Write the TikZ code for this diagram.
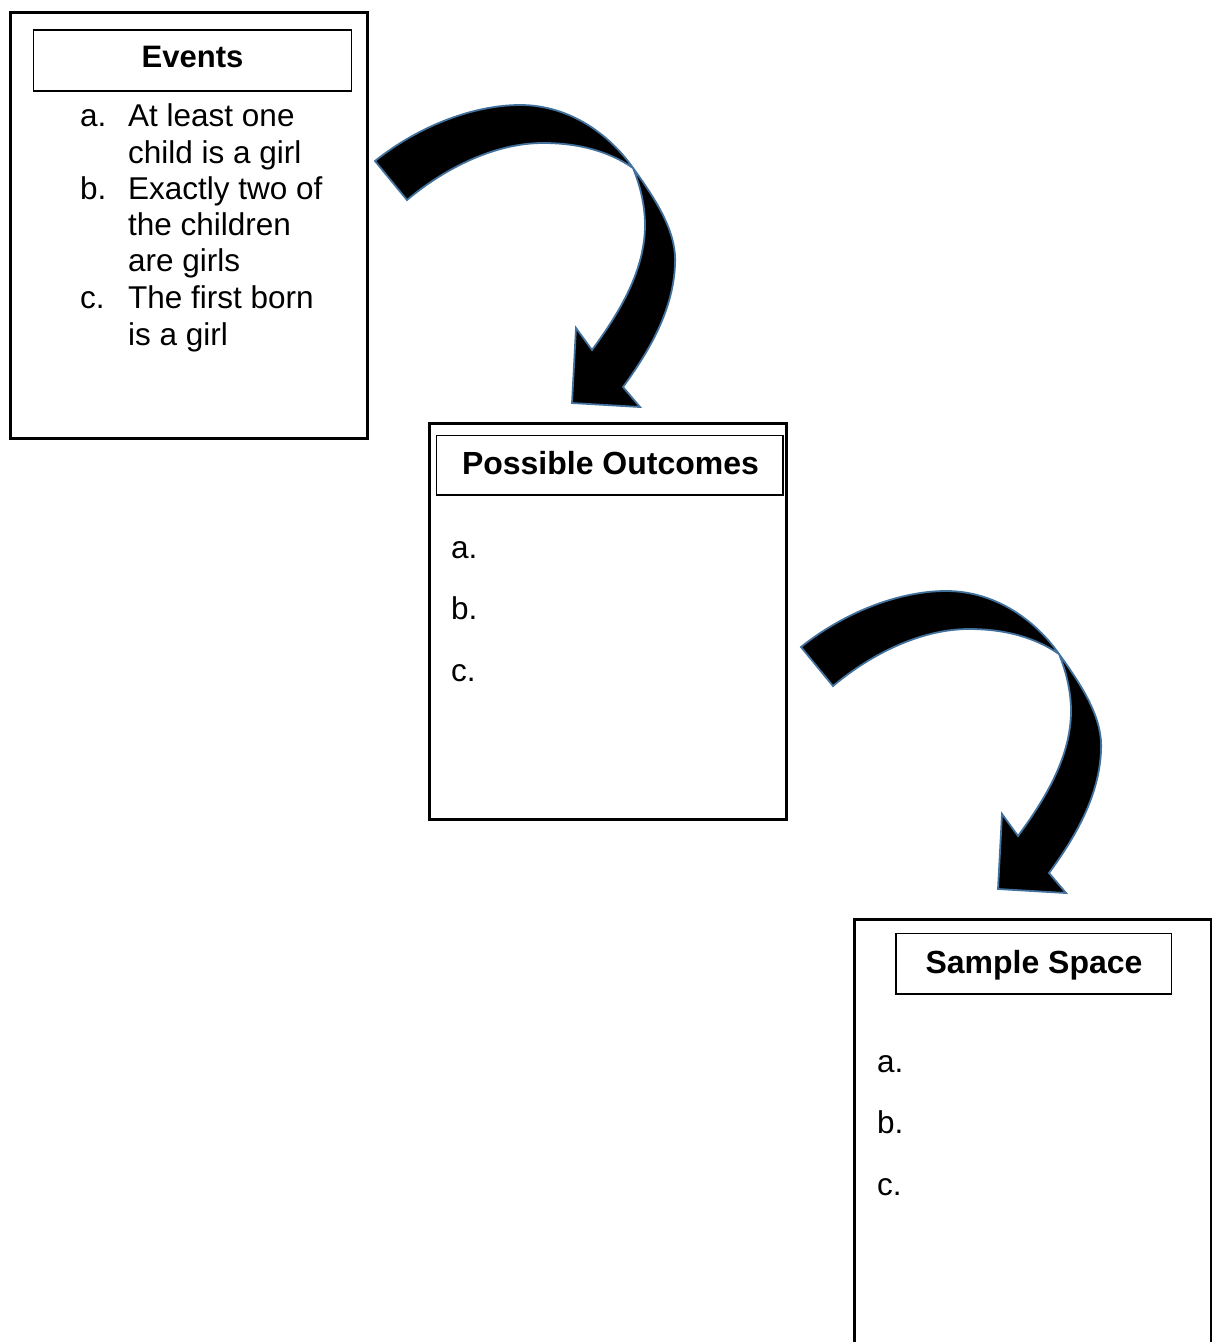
\documentclass[tikz,border=0pt]{standalone}
\usepackage{fontspec}
\setmainfont{Liberation Sans}
\definecolor{arrowline}{HTML}{41719C}
\begin{document}
\begin{tikzpicture}[x=1pt,y=-1pt,
  outerbox/.style={draw=black, line width=3pt, inner sep=0pt, outer sep=0pt},
  titlebox/.style={draw=black, line width=1.3pt, inner sep=0pt, outer sep=0pt},
  titletxt/.style={anchor=base, inner sep=0pt, font=\fontsize{32}{36}\selectfont\bfseries},
  bodytxt/.style={anchor=base west, inner sep=0pt, font=\fontsize{31.5}{36}\selectfont},
  curvearrow/.pic={
    \filldraw[fill=black, draw=arrowline, line width=1.8pt, line join=miter]
      (375,161) .. controls (420,125) and (475,105) .. (520,105)
      .. controls (570,105) and (610,135) .. (633,168)
      .. controls (660,205) and (677,235) .. (675,265)
      .. controls (673,310) and (650,350) .. (623,387)
      -- (640,407) -- (572,403) -- (576,328) -- (592,350)
      .. controls (620,312) and (645,270) .. (645,225)
      .. controls (645,205) and (640,185) .. (633,168)
      .. controls (610,152) and (580,143) .. (543,143)
      .. controls (495,143) and (445,168) .. (407,200) -- cycle;
  }]
\useasboundingbox (0,0) rectangle (1211,1342);

% Events box
\node[outerbox, minimum width=357pt, minimum height=426.5pt] (events) at (189,225.25) {};
\node[titlebox, minimum width=318.4pt, minimum height=61pt] (eventsTitleBox) at (192.5,60.5) {};
\node[titletxt, font=\fontsize{31}{36}\selectfont\bfseries] (eventsTitle) at (192.5,67.5) {Events};
\node[bodytxt] (evA) at (80,126.5) {a.};
\node[bodytxt] (evA1) at (128,126.5) {At least one};
\node[bodytxt] (evA2) at (128,163) {child is a girl};
\node[bodytxt] (evB) at (80,199.5) {b.};
\node[bodytxt] (evB1) at (128,199.5) {Exactly two of};
\node[bodytxt] (evB2) at (128,235.5) {the children};
\node[bodytxt] (evB3) at (128,271.5) {are girls};
\node[bodytxt] (evC) at (80,308.5) {c.};
\node[bodytxt] (evC1) at (128,308.5) {The first born};
\node[bodytxt] (evC2) at (128,345) {is a girl};

% Possible Outcomes box
\node[outerbox, minimum width=356.5pt, minimum height=396pt] (outcomes) at (607.75,621) {};
\node[titlebox, minimum width=346.7pt, minimum height=59.3pt] (outcomesTitleBox) at (609.5,465.4) {};
\node[titletxt] (outcomesTitle) at (610.5,474.5) {Possible Outcomes};
\node[bodytxt] (ocA) at (451,558.5) {a.};
\node[bodytxt] (ocB) at (451,619.5) {b.};
\node[bodytxt] (ocC) at (451,681.5) {c.};

% Sample Space box
\node[outerbox, minimum width=356.8pt, minimum height=428pt] (sample) at (1033.1,1133.5) {};
\node[titlebox, minimum width=275.7pt, minimum height=60.7pt] (sampleTitleBox) at (1033.8,963.7) {};
\node[titletxt] (sampleTitle) at (1034,973.5) {Sample Space};
\node[bodytxt] (ssA) at (877,1072.5) {a.};
\node[bodytxt] (ssB) at (877,1133.5) {b.};
\node[bodytxt] (ssC) at (877,1195.5) {c.};

% Curved block arrows
\pic at (0,0) {curvearrow};
\pic at (426,486) {curvearrow};
\end{tikzpicture}
\end{document}
